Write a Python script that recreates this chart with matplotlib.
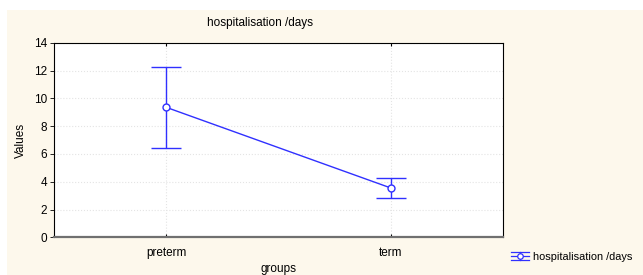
import matplotlib.pyplot as plt
from matplotlib.patches import Rectangle
from matplotlib.lines import Line2D
from matplotlib.legend_handler import HandlerBase

groups = ['preterm', 'term']
means = [9.35, 3.55]
upper = [12.25, 4.25]
lower = [6.45, 2.8]

plt.rcParams['font.family'] = ['Liberation Sans', 'DejaVu Sans']
plt.rcParams['font.size'] = 8.5

color = '#3030ff'


class ErrHandler(HandlerBase):
    # statistica-style key: line + open circle with caps above and below
    def create_artists(self, legend, orig_handle, xdescent, ydescent, width, height, fontsize, trans):
        yc = height / 2 - ydescent
        x0, x1 = -xdescent, width - xdescent
        d = height * 0.55
        arts = [Line2D([x0, x1], [yc, yc]), Line2D([x0, x1], [yc + d, yc + d]),
                Line2D([x0, x1], [yc - d, yc - d]),
                Line2D([(x0 + x1) / 2] * 2, [yc - d, yc + d]),
                Line2D([(x0 + x1) / 2], [yc], marker='o', markersize=4,
                       markerfacecolor='white', markeredgecolor=color, markeredgewidth=0.9)]
        for a in arts:
            a.set_color(color)
            a.set_linewidth(0.9)
            a.set_transform(trans)
        return arts


fig = plt.figure(figsize=(6.43, 2.75), dpi=100)
fig.patch.set_facecolor('white')
# cream panel behind everything
fig.patches.append(Rectangle((7 / 643, 0), 1, 1 - 10 / 275, transform=fig.transFigure,
                             facecolor='#fdf8ec', edgecolor='none', zorder=-10))

ax = fig.add_axes([54 / 643, 1 - 237.3 / 275, (503 - 54) / 643, (237.3 - 42.7) / 275])
ax.set_facecolor('white')

x = list(range(len(groups)))
yerr = [[m - lo for m, lo in zip(means, lower)], [u - m for m, u in zip(means, upper)]]
eb = ax.errorbar(x, means, yerr=yerr, color=color, linewidth=1, elinewidth=1, capsize=11, capthick=1,
                 marker='o', markersize=5, markerfacecolor='white', markeredgecolor=color,
                 markeredgewidth=1, zorder=3)

ax.set_xlim(-0.5, 1.5)
ax.set_ylim(0, 14)
ax.set_xticks(x)
ax.set_xticklabels(groups)
ax.set_yticks(range(0, 15, 2))
ax.grid(True, color='#e4e4e4', linestyle=':', linewidth=0.8)
ax.set_axisbelow(True)
ax.tick_params(axis='y', direction='out', length=3, width=0.6, pad=2)
ax.tick_params(axis='x', direction='in', length=2, width=0.8, top=True, pad=7)
for side in ['top', 'left', 'right']:
    ax.spines[side].set_color('black')
    ax.spines[side].set_linewidth(0.8)
ax.spines['bottom'].set_color('#707070')
ax.spines['bottom'].set_linewidth(1.6)

fig.text(260 / 643, 1 - 23 / 275, 'hospitalisation /days', ha='center', va='center')
ax.set_ylabel('Values', labelpad=5)
ax.set_xlabel('groups', labelpad=3)

fig.legend([eb], ['hospitalisation /days'], handler_map={type(eb): ErrHandler()},
           loc='center left', bbox_to_anchor=(511 / 643, 1 - 257 / 275), frameon=False,
           handlelength=1.6, handletextpad=0.45, borderpad=0, borderaxespad=0, fontsize=7.9)

fig.savefig('out.png', dpi=100, facecolor=fig.get_facecolor())
